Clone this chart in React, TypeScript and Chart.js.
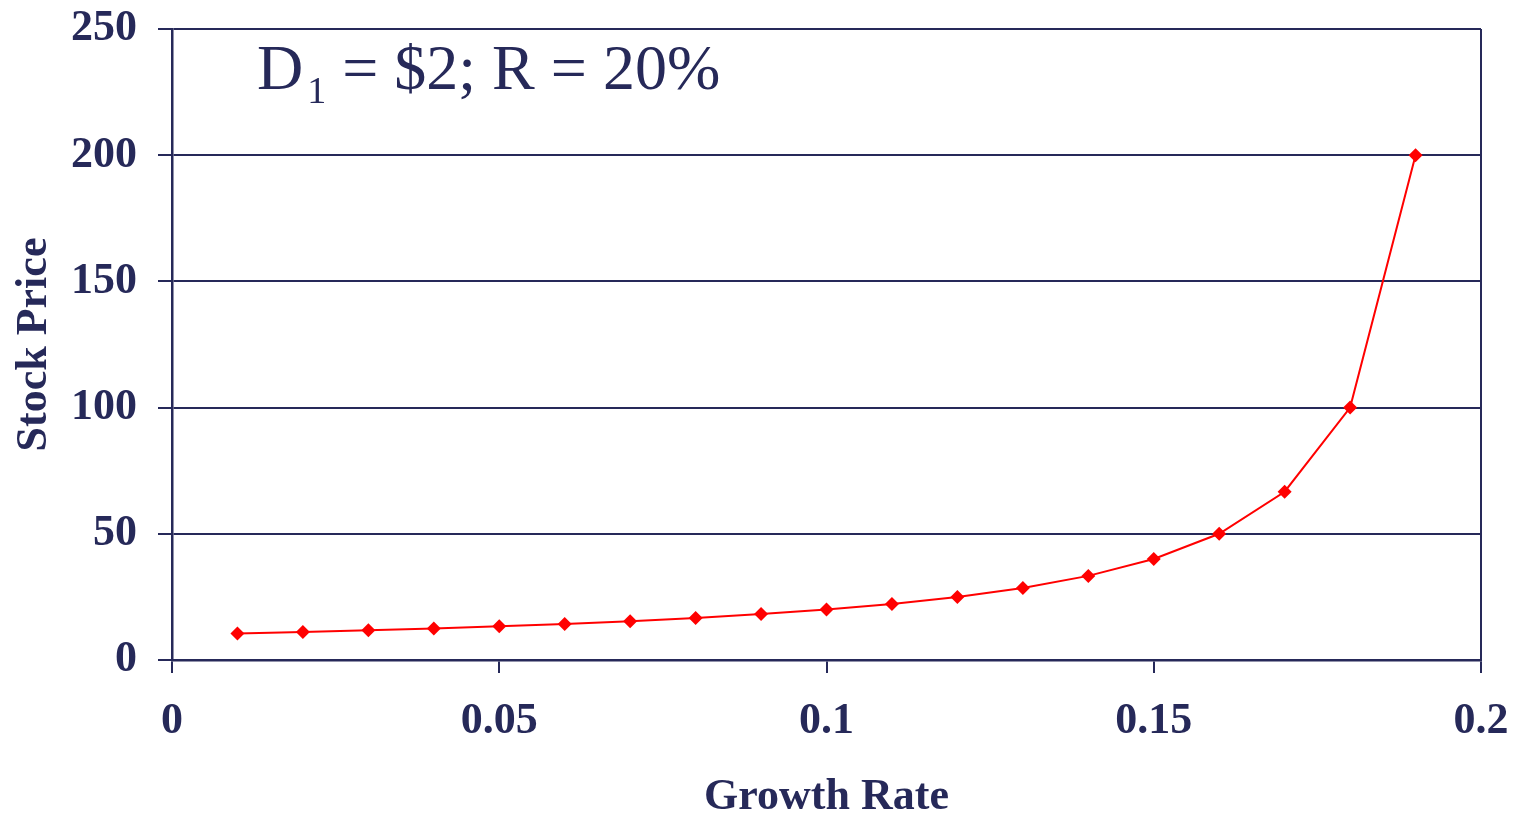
import React, { useEffect, useRef } from "react";
import { Chart, registerables } from "chart.js";

Chart.register(...registerables);

const growthRates = [0.01, 0.02, 0.03, 0.04, 0.05, 0.06, 0.07, 0.08, 0.09, 0.1, 0.11, 0.12, 0.13, 0.14, 0.15, 0.16, 0.17, 0.18, 0.19];
const stockPrices = [10.53, 11.11, 11.76, 12.5, 13.33, 14.29, 15.38, 16.67, 18.18, 20, 22.22, 25, 28.57, 33.33, 40, 50, 66.67, 100, 200];
const xTickLabels = ["0", "0.05", "0.1", "0.15", "0.2"];
const yTickLabels = ["0", "50", "100", "150", "200", "250"];
const xTitle = "Growth Rate";
const yTitle = "Stock Price";
const noteMain = "D";
const noteSub = "1";
const noteRest = " = $2; R = 20%";

const NAVY = "#262959";
const RED = "#ff0000";
const SERIF = '"Liberation Serif", "Times New Roman", serif';

const notePlugin = {
  id: "note",
  afterDraw(chart: any) {
    const { ctx, chartArea } = chart;
    const x0 = chartArea.left + 85;
    const base = chartArea.top + 60;
    ctx.save();
    ctx.fillStyle = NAVY;
    ctx.textBaseline = "alphabetic";
    ctx.textAlign = "left";
    ctx.font = `64px ${SERIF}`;
    ctx.fillText(noteMain, x0, base);
    const w1 = ctx.measureText(noteMain).width;
    ctx.font = `38px ${SERIF}`;
    ctx.fillText(noteSub, x0 + w1 + 4, base + 14);
    const w2 = ctx.measureText(noteSub).width;
    ctx.font = `64px ${SERIF}`;
    ctx.fillText(noteRest, x0 + w1 + 4 + w2, base);
    ctx.restore();
  },
};

export default function App() {
  const ref = useRef<HTMLCanvasElement>(null);
  useEffect(() => {
    document.body.style.margin = "0";
    const chart = new Chart(ref.current!, {
      type: "line",
      data: {
        datasets: [
          {
            data: growthRates.map((g, i) => ({ x: g, y: stockPrices[i] })),
            borderColor: RED,
            backgroundColor: RED,
            borderWidth: 2,
            pointStyle: "rectRot",
            pointRadius: 7,
            pointBackgroundColor: RED,
            pointBorderWidth: 0,
            tension: 0,
          },
        ],
      },
      options: {
        animation: false,
        responsive: false,
        devicePixelRatio: 1,
        layout: { padding: { left: 0, right: 32, top: 29, bottom: 0 } },
        plugins: { legend: { display: false }, tooltip: { enabled: false } },
        scales: {
          x: {
            type: "linear",
            min: 0,
            max: 0.2,
            afterFit: (s: any) => {
              s.height = 155;
              s.paddingLeft = 0;
              s.paddingRight = 0;
            },
            afterBuildTicks: (s: any) => {
              s.ticks = xTickLabels.map((l) => ({ value: parseFloat(l) }));
            },
            ticks: {
              color: NAVY,
              font: { family: SERIF, size: 44, weight: "bold", lineHeight: 1 },
              padding: 27,
              maxRotation: 0,
              autoSkip: false,
              callback: (_v: any, i: number) => xTickLabels[i],
            },
            grid: {
              color: (c: any) => (c.index === xTickLabels.length - 1 ? NAVY : "transparent"),
              tickColor: NAVY,
              tickLength: 13,
              lineWidth: 2,
            },
            border: { color: NAVY, width: 2.5 },
            title: {
              display: true,
              text: xTitle,
              color: NAVY,
              font: { family: SERIF, size: 44, weight: "bold", lineHeight: 0.8 },
              padding: { top: 0, bottom: 0 },
            },
          },
          y: {
            type: "linear",
            min: 0,
            max: 250,
            afterFit: (s: any) => {
              s.width = 172;
              s.paddingTop = 0;
              s.paddingBottom = 0;
            },
            afterBuildTicks: (s: any) => {
              s.ticks = yTickLabels.map((l) => ({ value: parseFloat(l) }));
            },
            ticks: {
              color: NAVY,
              font: { family: SERIF, size: 44, weight: "bold", lineHeight: 1 },
              padding: 21,
              autoSkip: false,
              callback: (_v: any, i: number) => yTickLabels[i],
            },
            grid: { color: NAVY, tickColor: NAVY, tickLength: 14, lineWidth: 2 },
            border: { color: NAVY, width: 2.5 },
            title: {
              display: true,
              text: yTitle,
              color: NAVY,
              font: { family: SERIF, size: 44, weight: "bold", lineHeight: 0.8 },
              padding: { top: 17, bottom: 0 },
            },
          },
        },
      },
      plugins: [notePlugin],
    } as any);
    return () => chart.destroy();
  }, []);
  return (
    <div style={{ position: "absolute", left: 0, top: 0, width: 1513, height: 815, background: "#fff" }}>
      <canvas ref={ref} width={1513} height={815} style={{ width: 1513, height: 815 }} />
    </div>
  );
}
